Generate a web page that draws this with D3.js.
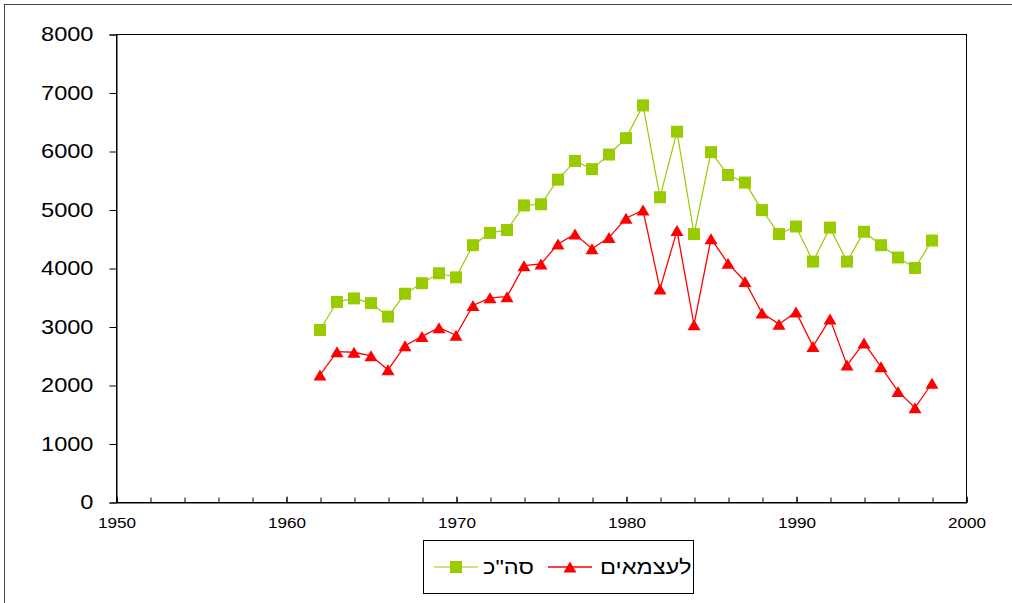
<!DOCTYPE html>
<html>
<head>
<meta charset="utf-8">
<script src="https://cdn.jsdelivr.net/npm/d3@7"></script>
<style>
  body { margin: 0; background: #fff; }
  text { font-family: "Liberation Sans", Arial, sans-serif; }
</style>
</head>
<body>
<div class="chart"></div>
<script>
// Data
const years = d3.range(1962, 1999);
const totalValues = [2940, 3420, 3480, 3400, 3170, 3560, 3740, 3910, 3840, 4390,
    4600, 4650, 5070, 5090, 5510, 5830, 5690, 5940, 6220, 6780,
    5210, 6330, 4580, 5980, 5590, 5460, 4990, 4580, 4710, 4110,
    4690, 4110, 4620, 4390, 4180, 4000, 4470];
const selfEmployedValues = [2170, 2570, 2560, 2500, 2260, 2670, 2830, 2980, 2850, 3360,
    3490, 3510, 4040, 4070, 4410, 4580, 4330, 4520, 4850, 4990,
    3640, 4640, 3030, 4500, 4080, 3770, 3230, 3040, 3250, 2660,
    3130, 2340, 2720, 2310, 1890, 1610, 2030];
const seriesNames = ["סה\"כ", "לעצמאים"];
const xTicks = [1950, 1960, 1970, 1980, 1990, 2000];
const yTicks = [0, 1000, 2000, 3000, 4000, 5000, 6000, 7000, 8000];

const width = 1012, height = 603;
const plot = { left: 116, right: 966, top: 34, bottom: 502 };
const stretch = 1.18; // the original chart's text is a bit wide

const svg = d3.select(".chart")
    .append("svg")
    .attr("width", width)
    .attr("height", height);

// outer frame
svg.append("rect")
    .attr("x", 4.5).attr("y", 4.5)
    .attr("width", 1020).attr("height", 620)
    .attr("fill", "none")
    .attr("stroke", "#444")
    .attr("stroke-width", 1);

const xScale = d3.scaleLinear().domain([1950, 2000]).range([plot.left, plot.right]);
const yScale = d3.scaleLinear().domain([0, 8000]).range([plot.bottom, plot.top]);

// plot area border
svg.append("rect")
    .attr("x", plot.left + 0.5).attr("y", plot.top + 0.5)
    .attr("width", plot.right - plot.left).attr("height", plot.bottom - plot.top)
    .attr("fill", "none")
    .attr("stroke", "#000")
    .attr("stroke-width", 1);

// y axis
const yAxis = svg.append("g")
    .attr("transform", `translate(${plot.left + 0.5},0.5)`)
    .call(d3.axisLeft(yScale).tickValues(yTicks).tickSize(7).tickFormat(d3.format("d")));
yAxis.select(".domain").attr("stroke", "#000");
yAxis.selectAll(".tick line").attr("stroke", "#000");
yAxis.selectAll(".tick text")
    .attr("fill", "#000")
    .style("font-size", "20px")
    .attr("transform", `translate(-23,0) scale(${stretch},1)`)
    .attr("x", 0);

// x axis: minor ticks every 2 years, labels every 10
const xAxis = svg.append("g")
    .attr("transform", `translate(0.5,${plot.bottom + 0.5})`)
    .call(d3.axisBottom(xScale).tickValues(d3.range(1950, 2001, 2)).tickSize(-5).tickFormat(""));
xAxis.select(".domain").attr("stroke", "#000");
xAxis.selectAll(".tick line").attr("stroke", "#000");

const xLabels = svg.append("g")
    .attr("transform", `translate(0.5,${plot.bottom + 0.5})`)
    .call(d3.axisBottom(xScale).tickValues(xTicks).tickSize(-6).tickFormat(d3.format("d")));
xLabels.select(".domain").remove();
xLabels.selectAll(".tick line").attr("stroke", "#000");
xLabels.selectAll(".tick text")
    .attr("fill", "#000")
    .style("font-size", "14.5px")
    .attr("y", 26)
    .attr("dy", 0)
    .attr("transform", `scale(${stretch},1)`);

// lines and markers
const series = [
    { name: seriesNames[0], values: totalValues, color: "#99CC00", lineWidth: 1.2, marker: "square" },
    { name: seriesNames[1], values: selfEmployedValues, color: "#FF0000", lineWidth: 1.3, marker: "triangle" }
];

const line = d3.line()
    .x(d => xScale(d.year))
    .y(d => yScale(d.value));

const squarePath = "M-6,-6H6V6H-6Z";
const trianglePath = "M0,-5.5L6.5,5.5L-6.5,5.5Z";

series.forEach(s => {
    const pts = years.map((year, i) => ({ year, value: s.values[i] }));
    svg.append("path")
        .datum(pts)
        .attr("fill", "none")
        .attr("stroke", s.color)
        .attr("stroke-width", s.lineWidth)
        .attr("d", line);
    svg.selectAll(".m-" + s.marker)
        .data(pts)
        .enter()
        .append("path")
        .attr("class", "m-" + s.marker)
        .attr("transform", d => `translate(${xScale(d.year)},${yScale(d.value)})`)
        .attr("d", s.marker === "square" ? squarePath : trianglePath)
        .attr("fill", s.color);
});

// legend
const legend = svg.append("g");
legend.append("rect")
    .attr("x", 423.5).attr("y", 540.5)
    .attr("width", 270).attr("height", 53)
    .attr("fill", "#fff")
    .attr("stroke", "#000")
    .attr("stroke-width", 1);

const legendItems = [
    { s: series[0], lineX: 434, textX: 483 },
    { s: series[1], lineX: 548, textX: 600 }
];
legendItems.forEach(item => {
    legend.append("line")
        .attr("x1", item.lineX).attr("x2", item.lineX + 44)
        .attr("y1", 567).attr("y2", 567)
        .attr("stroke", item.s.color)
        .attr("stroke-width", item.s.lineWidth);
    legend.append("path")
        .attr("transform", `translate(${item.lineX + 22},567)`)
        .attr("d", item.s.marker === "square" ? squarePath : trianglePath)
        .attr("fill", item.s.color);
    legend.append("text")
        .attr("transform", `translate(${item.textX},574) scale(${stretch},1)`)
        .attr("fill", "#000")
        .style("font-size", "20px")
        .text(item.s.name);
});
</script>
</body>
</html>
